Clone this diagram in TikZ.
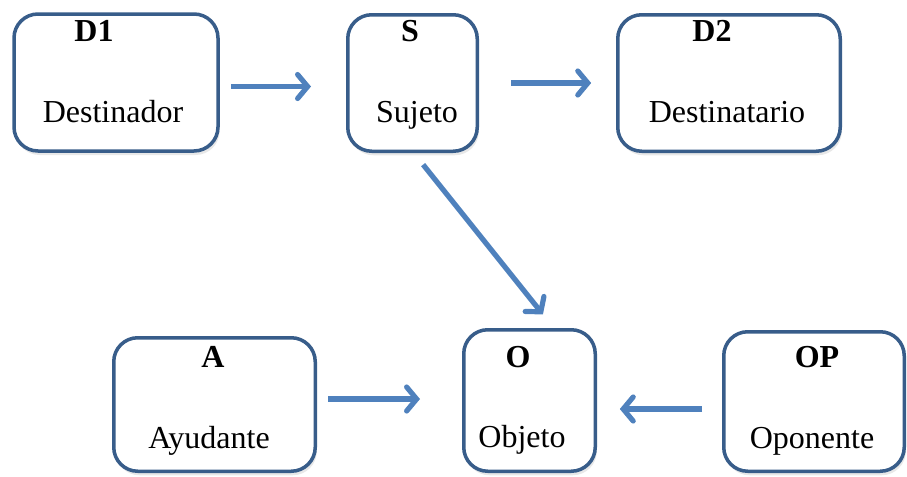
\documentclass[tikz,border=0pt]{standalone}
\usepackage{fontspec}
\setmainfont{Liberation Serif}
\usetikzlibrary{arrows.meta,shadows}

\definecolor{boxblue}{RGB}{56,93,138}
\definecolor{arrowblue}{RGB}{79,129,189}

\begin{document}
\begin{tikzpicture}[
      x=0.5pt,y=-0.5pt,
      every node/.style={font=\fontsize{16}{19}\selectfont},
      box/.style={draw=boxblue,line width=1.75pt,rounded corners=12pt,fill=white,inner sep=0pt,
        drop shadow={opacity=0.18,shadow xshift=0.8pt,shadow yshift=-2pt}},
      lettertag/.style={anchor=base,font=\fontsize{16}{19}\selectfont\bfseries},
      roletext/.style={anchor=base},
      arr/.style={->,draw=arrowblue,line width=2.6pt},
      >={Straight Barb[length=5pt,width=12pt,line cap=round]}
    ]
      \useasboundingbox (0,0) rectangle (907,477);
      % boxes
      \node[box,minimum width=102pt,minimum height=68.5pt] (d1) at (116,82.5) {};
      \node[box,minimum width=64.75pt,minimum height=68.25pt] (s) at (412.5,83) {};
      \node[box,minimum width=111.25pt,minimum height=68.25pt] (d2) at (729,83) {};
      \node[box,minimum width=100.75pt,minimum height=66.75pt] (a) at (214.5,404.5) {};
      \node[box,minimum width=65.75pt,minimum height=70.75pt] (o) at (529.5,400.5) {};
      \node[box,minimum width=90.25pt,minimum height=69.75pt] (op) at (814,401.5) {};
      % texts
      \node[lettertag] (d1h) at (94,41) {D1};
      \node[roletext] (d1n) at (113,122) {Destinador};
      \node[lettertag] (sh) at (410,41) {S};
      \node[roletext] (sn) at (417,122) {Sujeto};
      \node[lettertag] (d2h) at (712,41) {D2};
      \node[roletext] (d2n) at (727,122) {Destinatario};
      \node[lettertag] (ah) at (213,367) {A};
      \node[roletext] (an) at (209,448) {Ayudante};
      \node[lettertag] (oh) at (518,367) {O};
      \node[roletext] (on) at (522,447) {Objeto};
      \node[lettertag] (oph) at (817,367) {OP};
      \node[roletext] (opn) at (812,448) {Oponente};
      % arrows
      \draw[arr,shorten <=5.5pt,shorten >=17.5pt] ([yshift=-2pt]d1.east) -- ([yshift=-2pt]d1.east -| s.west);
      \draw[arr,shorten <=16pt,shorten >=12.4pt] (s.east) -- (s.east -| d2.west);
      \draw[arr,shorten <=7.45pt,shorten >=8.7pt] ([xshift=0.65pt]s.south) -- ([xshift=12.15pt]o.north);
      \draw[arr,shorten <=5.5pt,shorten >=21pt] ([yshift=2.75pt]a.east) -- ([yshift=2.75pt]a.east -| o.west);
      \draw[arr,shorten <=10pt,shorten >=11.4pt] ([yshift=-3.75pt]op.west) -- ([yshift=-3.75pt]op.west -| o.east);
    \end{tikzpicture}
\end{document}
